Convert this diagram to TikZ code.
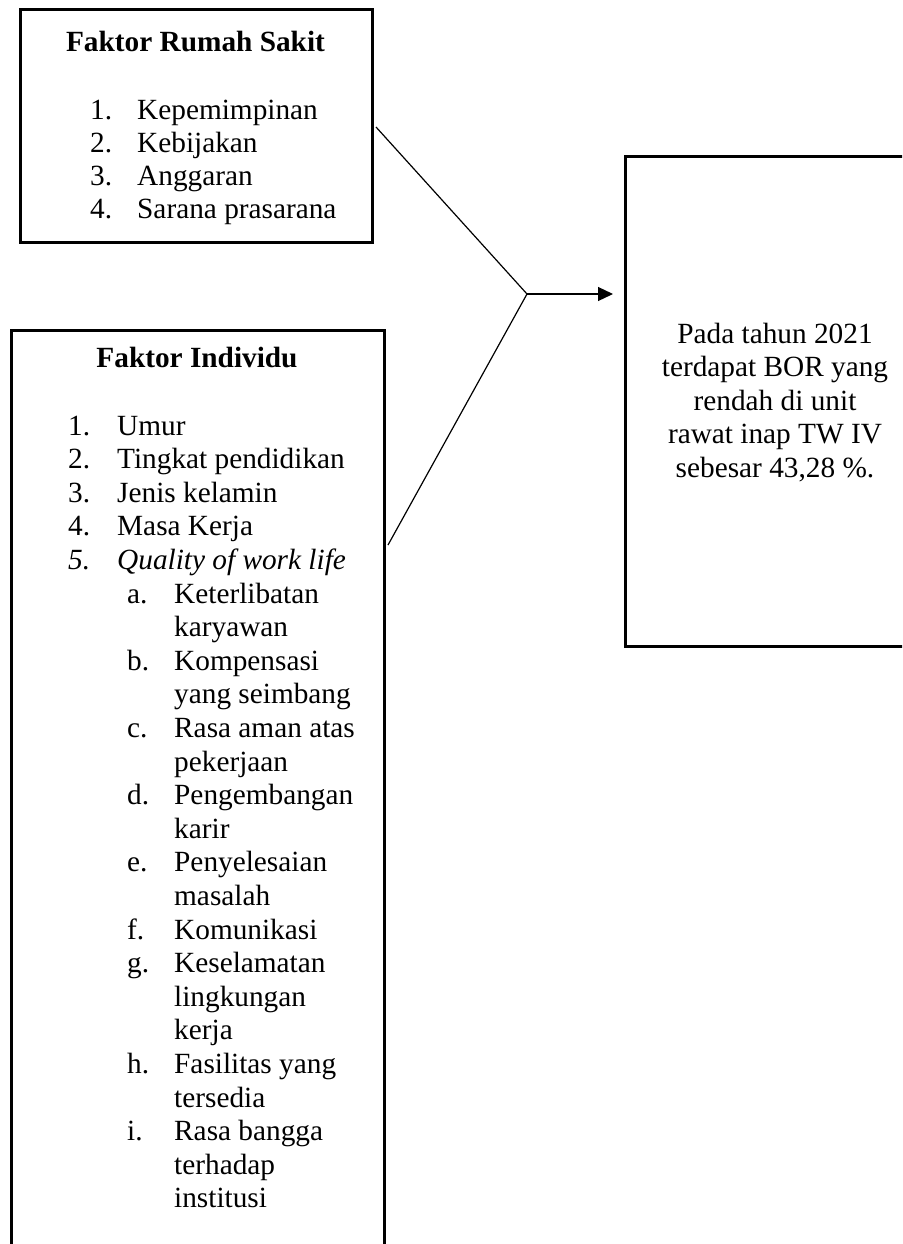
\documentclass[tikz,border=0pt]{standalone}
\usepackage{fontspec}
\setmainfont{Liberation Serif}
\usetikzlibrary{arrows.meta}
\begin{document}
\begin{tikzpicture}[x=1pt,y=-1pt,
  box/.style={draw,line width=2.8pt,inner sep=0pt,anchor=north west},
  conn/.style={line width=1.2pt},
  txt/.style={anchor=base west,inner sep=0pt,font=\fontsize{29.3}{33.6}\selectfont},
  ctxt/.style={anchor=base,inner sep=0pt,font=\fontsize{29.3}{33.6}\selectfont}]
\useasboundingbox (0,0) rectangle (902,1244);
\clip (0,0) rectangle (902,1244);
% boxes
\node[box,minimum width=352pt,minimum height=233pt] (rs) at (19,8) {};
\node[box,minimum width=373pt,minimum height=960pt] (ind) at (10,329) {};
\node[box,minimum width=300pt,minimum height=490pt] (bor) at (624,155) {};
% box 1 text
\node[ctxt] (rst) at (195.5,52) {\bfseries Faktor Rumah Sakit};
\foreach \n/\t [count=\i from 0] in {1./Kepemimpinan,2./Kebijakan,3./Anggaran,4./Sarana prasarana}{
  \node[txt] (rsn\i) at (90,119.5+33*\i) {\n};
  \node[txt] (rsi\i) at (137,119.5+33*\i) {\t};
}
% box 2 text
\node[ctxt] (indt) at (197,367) {\bfseries Faktor Individu};
\foreach \n/\t [count=\i from 0] in {1./Umur,2./Tingkat pendidikan,3./Jenis kelamin,4./Masa Kerja}{
  \node[txt] (inn\i) at (68,435+33.6*\i) {\n};
  \node[txt] (ini\i) at (117,435+33.6*\i) {\t};
}
\node[txt] (inn4) at (68,435+33.6*4) {\itshape 5.};
\node[txt] (ini4) at (117,435+33.6*4) {\itshape Quality of work life};
\foreach \l/\t/\r in {a./Keterlibatan/5,/karyawan/6,b./Kompensasi/7,/yang seimbang/8,
  c./Rasa aman atas/9,/pekerjaan/10,d./Pengembangan/11,/karir/12,
  e./Penyelesaian/13,/masalah/14,f./Komunikasi/15,g./Keselamatan/16,/lingkungan/17,/kerja/18,
  h./Fasilitas yang/19,/tersedia/20,i./Rasa bangga/21,/terhadap/22,/institusi/23}{
  \node[txt] (sl\r) at (127,435+33.6*\r) {\l};
  \node[txt] (st\r) at (174,435+33.6*\r) {\t};
}
% box 3 text
\foreach \t [count=\i from 0] in {Pada tahun 2021,terdapat BOR yang,rendah di unit,rawat inap TW IV,{sebesar 43,28 \%.}}{
  \node[ctxt] (bt\i) at (775,343+33.5*\i) {\t};
}
% connectors
\coordinate (s1) at (376,127);
\coordinate (s2) at (388,545);
\coordinate (j) at (527,294);
\draw[conn] (s1) -- (j);
\draw[conn] (s2) -- (j);
\draw[conn,-{Triangle[length=15pt,width=14pt]},shorten >=11pt] (j) -- (bor.west |- j);
\end{tikzpicture}
\end{document}
